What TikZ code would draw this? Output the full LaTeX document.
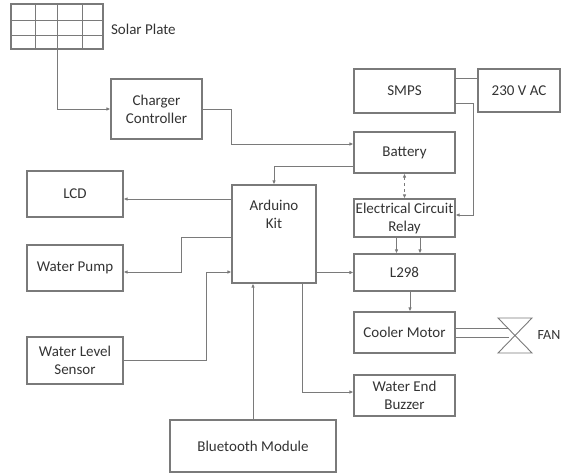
\documentclass[tikz,border=0pt]{standalone}
\usepackage{fontspec}
\setmainfont{Carlito}
\usepackage{tikz}
\usetikzlibrary{arrows.meta}
\usetikzlibrary{calc}
\tikzset{>={Latex[length=4pt,width=3.5pt]}}
\definecolor{linegray}{HTML}{7A7A7A}
\definecolor{textgray}{HTML}{333333}
\tikzstyle{block} = [draw=linegray, line width=1.1pt, text=textgray,
    minimum width=101, minimum height=41, inner sep=1pt, align=center,
    font=\fontsize{15}{18}\selectfont]
\tikzstyle{wire} = [draw=linegray, line width=0.9pt]

\begin{document}
\begin{tikzpicture}[x=1pt,y=-1pt]
\useasboundingbox (0,0) rectangle (561,473);
    %solar plate
    \node[draw=linegray, line width=1.1pt, minimum width=92, minimum height=45,
        inner sep=0pt] (solar) at (57,26.5) {};
    \foreach \gx in {35,57,82}
        \draw[wire] (\gx,4) -- (\gx,49);
    \foreach \gy in {20,35}
        \draw[wire] (11,\gy) -- (103,\gy);
    \node[anchor=west, text=textgray, font=\fontsize{15}{18}\selectfont]
        (solarlabel) at ($(solar.east)+(4,3)$) {Solar Plate};
    %blocks
    \node[block, minimum width=91, minimum height=60] (charger) at (156.5,109) {Charger\\Controller};
    \node[block, minimum height=44] (smps) at (404.5,91) {SMPS};
    \node[block, minimum width=82, minimum height=43] (ac) at (519,90.5) {230 V AC};
    \node[block] (battery) at (404.5,152.5) {Battery};
    \node[block, minimum height=38] (relay) at (404.5,218) {Electrical Circuit\\Relay};
    \node[block, minimum width=84, minimum height=98,
        label={[anchor=north, yshift=-12, text=textgray, align=center,
        font=\fontsize{15}{18}\selectfont]north:Arduino\\Kit}] (arduino) at (274,234) {};
    \node[block, minimum width=96, minimum height=46] (lcd) at (75,194) {LCD};
    \node[block, minimum width=96, minimum height=46] (pump) at (75,268) {Water Pump};
    \node[block, minimum width=96, minimum height=47] (sensor) at (75,360.5) {Water Level\\Sensor};
    \node[block, minimum height=37] (l298) at (404.5,272.5) {L298};
    \node[block] (cooler) at (404.5,332.5) {Cooler Motor};
    \node[block] (buzzer) at (404.5,395.5) {Water End\\Buzzer};
    \node[block, minimum width=166, minimum height=52] (bt) at (253,446) {Bluetooth Module};
    %fan
    \coordinate (fan) at (515,335.5);
    \draw[wire] ($(fan)+(-17,-17.5)$) -- ($(fan)+(17,-17.5)$) -- ($(fan)+(-17,17.5)$)
        -- ($(fan)+(17,17.5)$) -- cycle;
    \coordinate (fanin1) at ($(fan)+(-6,-7.5)$);
    \coordinate (fanin2) at ($(fan)+(-6,1.5)$);
    \node[anchor=west, text=textgray, font=\fontsize{14}{16}\selectfont]
        (fanlabel) at ($(fan)+(19,0)$) {FAN};
    %lines
    \draw[wire, ->] (solar.south) |- (charger.west);
    \draw[wire, ->] (charger.east) -- ++(29,0) |- ($(battery.west)+(0,-8.5)$);
    \draw[wire, ->] ($(battery.west)+(0,13.5)$) -| (arduino.north);
    \draw[wire] ($(smps.east)+(0,-13)$) -- ($(ac.west)+(0,-12.5)$);
    \draw[wire, ->] ($(smps.east)+(0,12)$) -- ++(18,0) |- ($(relay.east)+(0,-3)$);
    \draw[wire, <->, dashed] (battery.south) -- (relay.north);
    \draw[wire, ->] ($(relay.south)+(-8,0)$) -- ($(l298.north)+(-8,0)$);
    \draw[wire, ->] ($(relay.south)+(15.5,0)$) -- ($(l298.north)+(15.5,0)$);
    \draw[wire, ->] ($(arduino.west)+(0,-35)$) -- ($(lcd.east)+(0,5)$);
    \draw[wire, ->] ($(arduino.west)+(0,3)$) -- ++(-50,0) |- ($(pump.east)+(0,4)$);
    \draw[wire, ->] (sensor.east) -- ++(83,0) |- ($(arduino.west)+(0,38)$);
    \draw[wire, ->] ($(arduino.east)+(0,38.5)$) -- (l298.west);
    \draw[wire, ->] ($(l298.south)+(5.5,0)$) -- ($(cooler.north)+(5.5,0)$);
    \draw[wire] ($(cooler.east)+(0,-4.5)$) -- (fanin1);
    \draw[wire] ($(cooler.east)+(0,4.5)$) -- (fanin2);
    \draw[wire, ->] ($(arduino.south)+(28,0)$) |- ($(buzzer.west)+(0,-3.5)$);
    \draw[wire, ->] (bt.north) -- (bt.north |- arduino.south);
\end{tikzpicture}
\end{document}
